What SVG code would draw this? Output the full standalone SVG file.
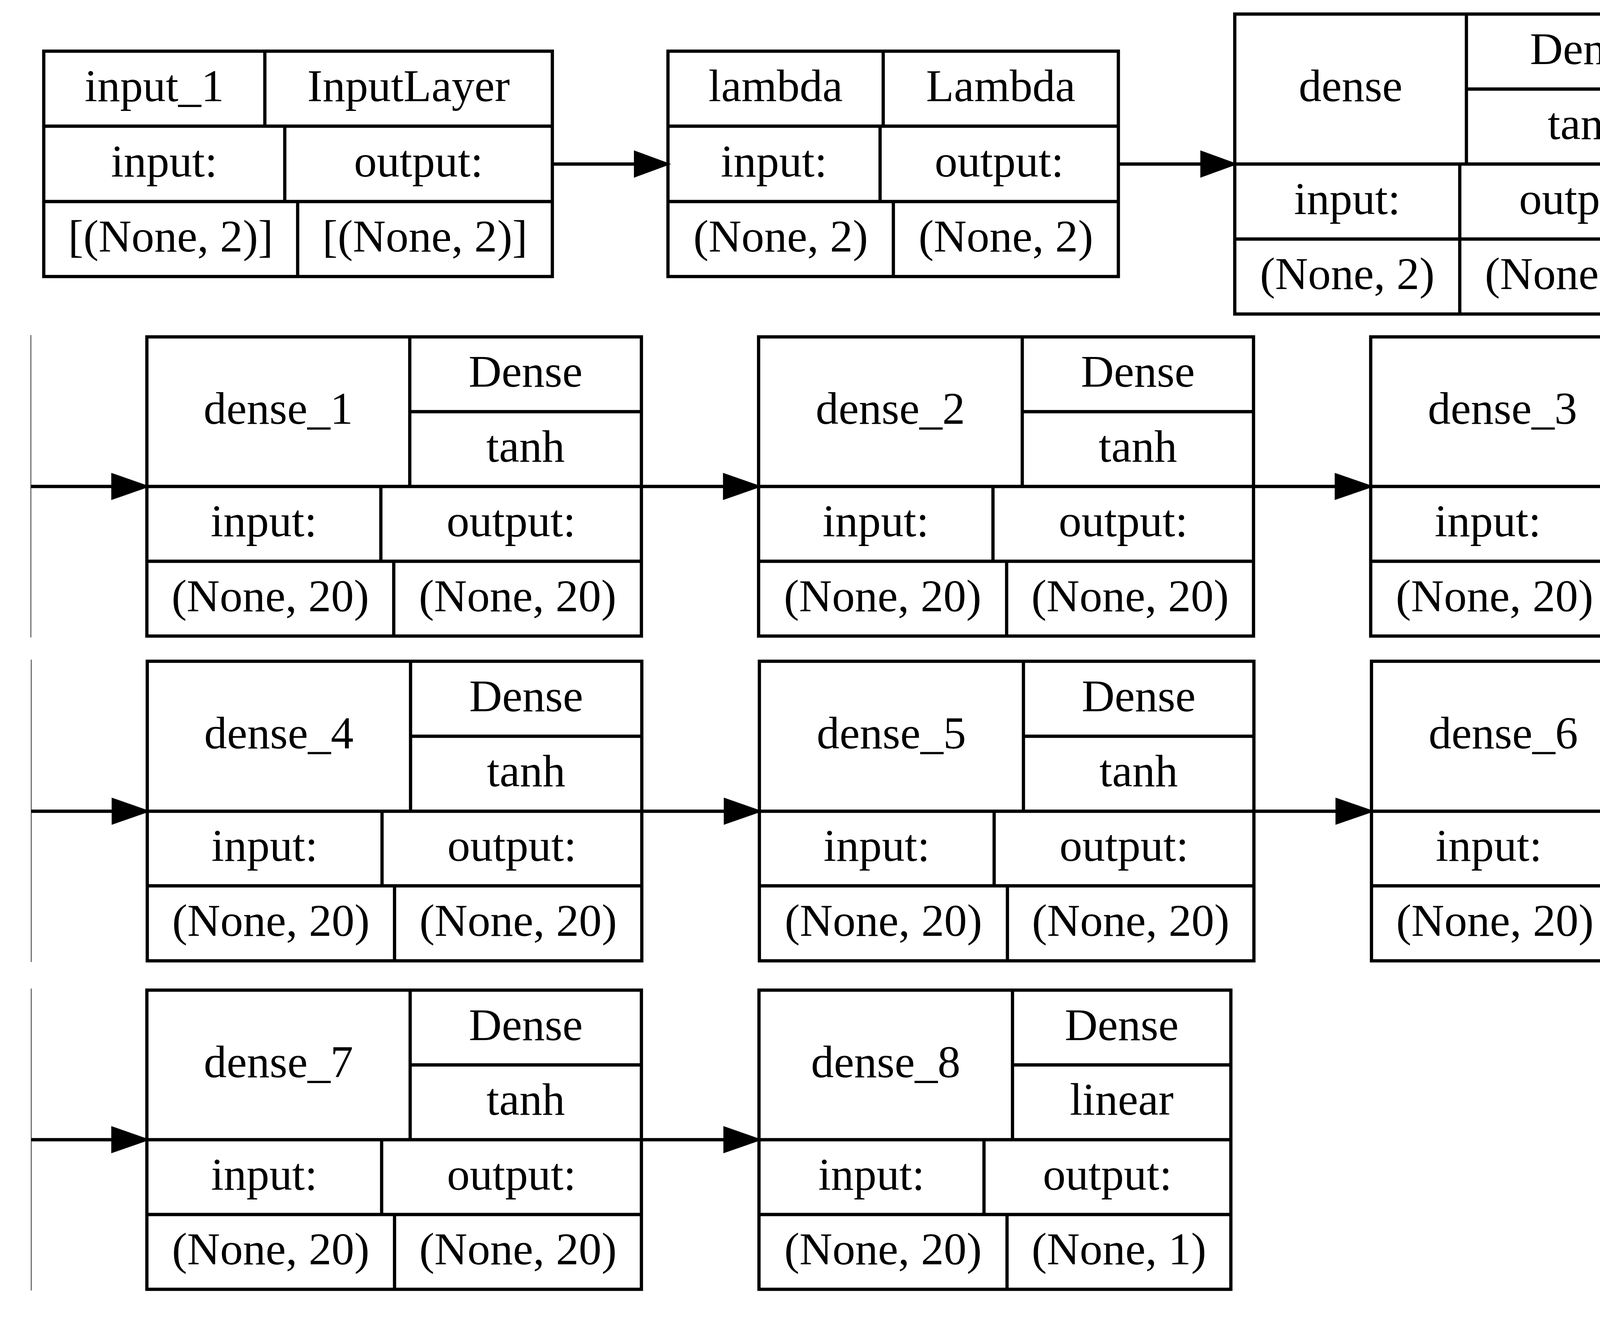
<svg xmlns="http://www.w3.org/2000/svg" width="4843" height="3418" viewBox="0 0 4843 3418">
<style>
.b{fill:none;stroke:#000;stroke-width:8.33}
.t{font-family:"Liberation Serif","Times New Roman",serif;font-size:116.7px;text-anchor:middle;fill:#000}
.e{stroke:#000;stroke-width:8.33;fill:none}
.a{fill:#000;stroke:#000;stroke-width:8.33}
.g{stroke:#555;stroke-width:2.5;fill:none}
</style>
<rect width="4843" height="3418" fill="#fff"/>
<g id="connectors">
<path class="g" d="M79,858V1632M80,1689V2463M80,2531V3304"/>
<path class="e" d="M1414,420H1630M2863,420H3080M79,1245.5H292M1642,1245.5H1858M3209,1245.5H3424M80,2077H293M1643,2077H1860M3210,2077H3426M80,2918H292M1642,2918H1859"/>
<polygon class="a" points="1627,391 1706,420 1627,449"/>
<polygon class="a" points="3077,391 3157,420 3077,449"/>
<polygon class="a" points="289,1216.5 372,1245.5 289,1274.5"/>
<polygon class="a" points="1855,1216.5 1938,1245.5 1855,1274.5"/>
<polygon class="a" points="3421,1216.5 3505,1245.5 3421,1274.5"/>
<polygon class="a" points="290,2048 373,2077 290,2106"/>
<polygon class="a" points="1857,2048 1940,2077 1857,2106"/>
<polygon class="a" points="3423,2048 3507,2077 3423,2106"/>
<polygon class="a" points="289,2889 372,2918 289,2947"/>
<polygon class="a" points="1856,2889 1939,2918 1856,2947"/>
</g>
<g id="input_1">
<rect class="b" x="112" y="131" width="1302" height="577"/>
<path class="b" d="M112,323H1414M112,516H1414M678,131V323M729,323V516M762,516V708"/>
<text class="t" x="395" y="259">input_1</text>
<text class="t" x="1046" y="259">InputLayer</text>
<text class="t" x="420.5" y="452">input:</text>
<text class="t" x="1071.5" y="452">output:</text>
<text class="t" x="437" y="644">[(None, 2)]</text>
<text class="t" x="1088" y="644">[(None, 2)]</text>
</g>
<g id="lambda">
<rect class="b" x="1710" y="131" width="1153" height="577"/>
<path class="b" d="M1710,323H2863M1710,516H2863M2261,131V323M2253,323V516M2287,516V708"/>
<text class="t" x="1985.5" y="259">lambda</text>
<text class="t" x="2562" y="259">Lambda</text>
<text class="t" x="1981.5" y="452">input:</text>
<text class="t" x="2558" y="452">output:</text>
<text class="t" x="1998.5" y="644">(None, 2)</text>
<text class="t" x="2575" y="644">(None, 2)</text>
</g>
<g id="dense">
<rect class="b" x="3161" y="36" width="1210" height="768"/>
<path class="b" d="M3161,420H4371M3161,612H4371M3754,228H4371M3754,36V420M3737,420V612M3737,612V804"/>
<text class="t" x="3457.5" y="259">dense</text>
<text class="t" x="4062.5" y="164">Dense</text>
<text class="t" x="4062.5" y="356">tanh</text>
<text class="t" x="3449" y="548">input:</text>
<text class="t" x="4054" y="548">output:</text>
<text class="t" x="3449" y="740">(None, 2)</text>
<text class="t" x="4054" y="740">(None, 20)</text>
</g>
<g id="dense_1">
<rect class="b" x="376" y="862.5" width="1266" height="766"/>
<path class="b" d="M376,1245.5H1642M376,1437H1642M1049,1054H1642M1049,862.5V1245.5M975,1245.5V1437M1008,1437V1628.5"/>
<text class="t" x="712.5" y="1085">dense_1</text>
<text class="t" x="1345.5" y="990">Dense</text>
<text class="t" x="1345.5" y="1182">tanh</text>
<text class="t" x="675.5" y="1373">input:</text>
<text class="t" x="1308.5" y="1373">output:</text>
<text class="t" x="692" y="1565">(None, 20)</text>
<text class="t" x="1325" y="1565">(None, 20)</text>
</g>
<g id="dense_2">
<rect class="b" x="1942" y="862.5" width="1267" height="766"/>
<path class="b" d="M1942,1245.5H3209M1942,1437H3209M2617,1054H3209M2617,862.5V1245.5M2542,1245.5V1437M2577,1437V1628.5"/>
<text class="t" x="2279.5" y="1085">dense_2</text>
<text class="t" x="2913" y="990">Dense</text>
<text class="t" x="2913" y="1182">tanh</text>
<text class="t" x="2242" y="1373">input:</text>
<text class="t" x="2875.5" y="1373">output:</text>
<text class="t" x="2259.5" y="1565">(None, 20)</text>
<text class="t" x="2893" y="1565">(None, 20)</text>
</g>
<g id="dense_3">
<rect class="b" x="3509" y="862.5" width="1265" height="766"/>
<path class="b" d="M3509,1245.5H4774M3509,1437H4774M4184,1054H4774M4184,862.5V1245.5M4109,1245.5V1437M4143,1437V1628.5"/>
<text class="t" x="3846.5" y="1085">dense_3</text>
<text class="t" x="4479" y="990">Dense</text>
<text class="t" x="4479" y="1182">tanh</text>
<text class="t" x="3809" y="1373">input:</text>
<text class="t" x="4441.5" y="1373">output:</text>
<text class="t" x="3826" y="1565">(None, 20)</text>
<text class="t" x="4458.5" y="1565">(None, 20)</text>
</g>
<g id="dense_4">
<rect class="b" x="377" y="1693" width="1266" height="767"/>
<path class="b" d="M377,2077H1643M377,2268H1643M1051,1885H1643M1051,1693V2077M978,2077V2268M1010,2268V2460"/>
<text class="t" x="714" y="1916">dense_4</text>
<text class="t" x="1347" y="1821">Dense</text>
<text class="t" x="1347" y="2013">tanh</text>
<text class="t" x="677.5" y="2204">input:</text>
<text class="t" x="1310.5" y="2204">output:</text>
<text class="t" x="693.5" y="2396">(None, 20)</text>
<text class="t" x="1326.5" y="2396">(None, 20)</text>
</g>
<g id="dense_5">
<rect class="b" x="1944" y="1693" width="1266" height="767"/>
<path class="b" d="M1944,2077H3210M1944,2268H3210M2620,1885H3210M2620,1693V2077M2545,2077V2268M2579,2268V2460"/>
<text class="t" x="2282" y="1916">dense_5</text>
<text class="t" x="2915" y="1821">Dense</text>
<text class="t" x="2915" y="2013">tanh</text>
<text class="t" x="2244.5" y="2204">input:</text>
<text class="t" x="2877.5" y="2204">output:</text>
<text class="t" x="2261.5" y="2396">(None, 20)</text>
<text class="t" x="2894.5" y="2396">(None, 20)</text>
</g>
<g id="dense_6">
<rect class="b" x="3511" y="1693" width="1264" height="767"/>
<path class="b" d="M3511,2077H4775M3511,2268H4775M4186,1885H4775M4186,1693V2077M4112,2077V2268M4143,2268V2460"/>
<text class="t" x="3848.5" y="1916">dense_6</text>
<text class="t" x="4480.5" y="1821">Dense</text>
<text class="t" x="4480.5" y="2013">tanh</text>
<text class="t" x="3811.5" y="2204">input:</text>
<text class="t" x="4443.5" y="2204">output:</text>
<text class="t" x="3827" y="2396">(None, 20)</text>
<text class="t" x="4459" y="2396">(None, 20)</text>
</g>
<g id="dense_7">
<rect class="b" x="376" y="2535" width="1266" height="766"/>
<path class="b" d="M376,2918H1642M376,3109.5H1642M1050,2726.5H1642M1050,2535V2918M977,2918V3109.5M1010,3109.5V3301"/>
<text class="t" x="713" y="2758">dense_7</text>
<text class="t" x="1346" y="2663">Dense</text>
<text class="t" x="1346" y="2854">tanh</text>
<text class="t" x="676.5" y="3046">input:</text>
<text class="t" x="1309.5" y="3046">output:</text>
<text class="t" x="693" y="3237">(None, 20)</text>
<text class="t" x="1326" y="3237">(None, 20)</text>
</g>
<g id="dense_8">
<rect class="b" x="1943" y="2535" width="1208" height="766"/>
<path class="b" d="M1943,2918H3151M1943,3109.5H3151M2592,2726.5H3151M2592,2535V2918M2519,2918V3109.5M2578,3109.5V3301"/>
<text class="t" x="2267.5" y="2758">dense_8</text>
<text class="t" x="2871.5" y="2663">Dense</text>
<text class="t" x="2871.5" y="2854">linear</text>
<text class="t" x="2231" y="3046">input:</text>
<text class="t" x="2835" y="3046">output:</text>
<text class="t" x="2260.5" y="3237">(None, 20)</text>
<text class="t" x="2864.5" y="3237">(None, 1)</text>
</g>
</svg>
